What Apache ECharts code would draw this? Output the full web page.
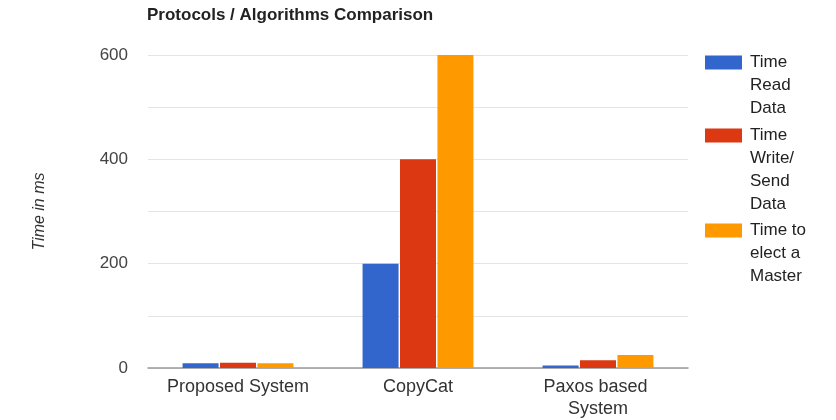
<!DOCTYPE html>
<html>
<head>
<meta charset="utf-8">
<script src="https://cdn.jsdelivr.net/npm/echarts@6/dist/echarts.min.js"></script>
<style>
  html, body { margin: 0; padding: 0; background: #fff; }
  #chart { width: 836px; height: 420px; }
</style>
</head>
<body>
<div id="chart"></div>
<script>
// Systems compared
const categories = ['Proposed System', 'CopyCat', 'Paxos based System'];

// Times in ms
const readTime = [9, 200, 5];
const writeTime = [10, 400, 15];
const electTime = [9, 600, 25];

const seriesNames = ['Time Read Data', 'Time Write/ Send Data', 'Time to elect a Master'];
// How each legend entry wraps
const legendLines = [
  ['Time', 'Read', 'Data'],
  ['Time', 'Write/', 'Send', 'Data'],
  ['Time to', 'elect a', 'Master']
];
const colors = ['#3366cc', '#dc3912', '#ff9900'];
const legendTops = [51, 124, 219];

const FONT = 'Arial, "Liberation Sans", sans-serif';
const LINE_H = 23;

const chart = echarts.init(document.getElementById('chart'), null, { renderer: 'canvas' });

// One legend block per series: the swatch sits beside the first text line
const legends = seriesNames.map((name, i) => {
  const n = legendLines[i].length;
  const h = 14 + (n - 1) * LINE_H;
  return {
    data: [name],
    left: 705,
    top: legendTops[i],
    padding: 0,
    itemWidth: 37,
    itemHeight: h,
    icon: 'path://M0,0L37,0L37,14L0,14Z M0,' + h + 'L37,' + h,
    itemStyle: { borderWidth: 0 },
    formatter: () => legendLines[i].join('\n'),
    textStyle: { fontFamily: FONT, fontSize: 17, color: '#222', lineHeight: LINE_H, padding: [0, 0, 0, 3] }
  };
});

const values = [readTime, writeTime, electTime];

chart.setOption({
  animation: false,
  title: {
    text: 'Protocols / Algorithms Comparison',
    left: 147,
    top: 7,
    padding: 0,
    textStyle: { fontFamily: FONT, fontSize: 17, fontWeight: 'bold', color: '#222' }
  },
  legend: legends,
  grid: { left: 148, right: 148, top: 55, bottom: 50 },
  xAxis: {
    type: 'category',
    data: categories,
    axisLine: { lineStyle: { color: '#999', width: 1.5 } },
    axisTick: { show: false },
    axisLabel: {
      interval: 0,
      fontFamily: FONT, fontSize: 18, color: '#333', margin: 8,
      width: 160, overflow: 'break', lineHeight: 22
    }
  },
  yAxis: {
    type: 'value',
    min: 0,
    max: 600,
    interval: 200,
    name: 'Time in ms',
    nameLocation: 'middle',
    nameRotate: 90,
    nameGap: 100,
    nameTextStyle: { fontFamily: FONT, fontSize: 16, fontStyle: 'italic', color: '#333' },
    axisLine: { show: false },
    axisTick: { show: false },
    axisLabel: { fontFamily: FONT, fontSize: 17, color: '#444', margin: 20 },
    splitLine: { lineStyle: { color: '#e4e4e4' } },
    minorTick: { show: false, splitNumber: 2 },
    minorSplitLine: { show: true, lineStyle: { color: '#e4e4e4' } }
  },
  series: seriesNames.map((name, i) => ({
    name: name,
    type: 'bar',
    data: values[i],
    barWidth: 36,
    barGap: '4%',
    itemStyle: { color: colors[i] }
  }))
});
</script>
</body>
</html>
